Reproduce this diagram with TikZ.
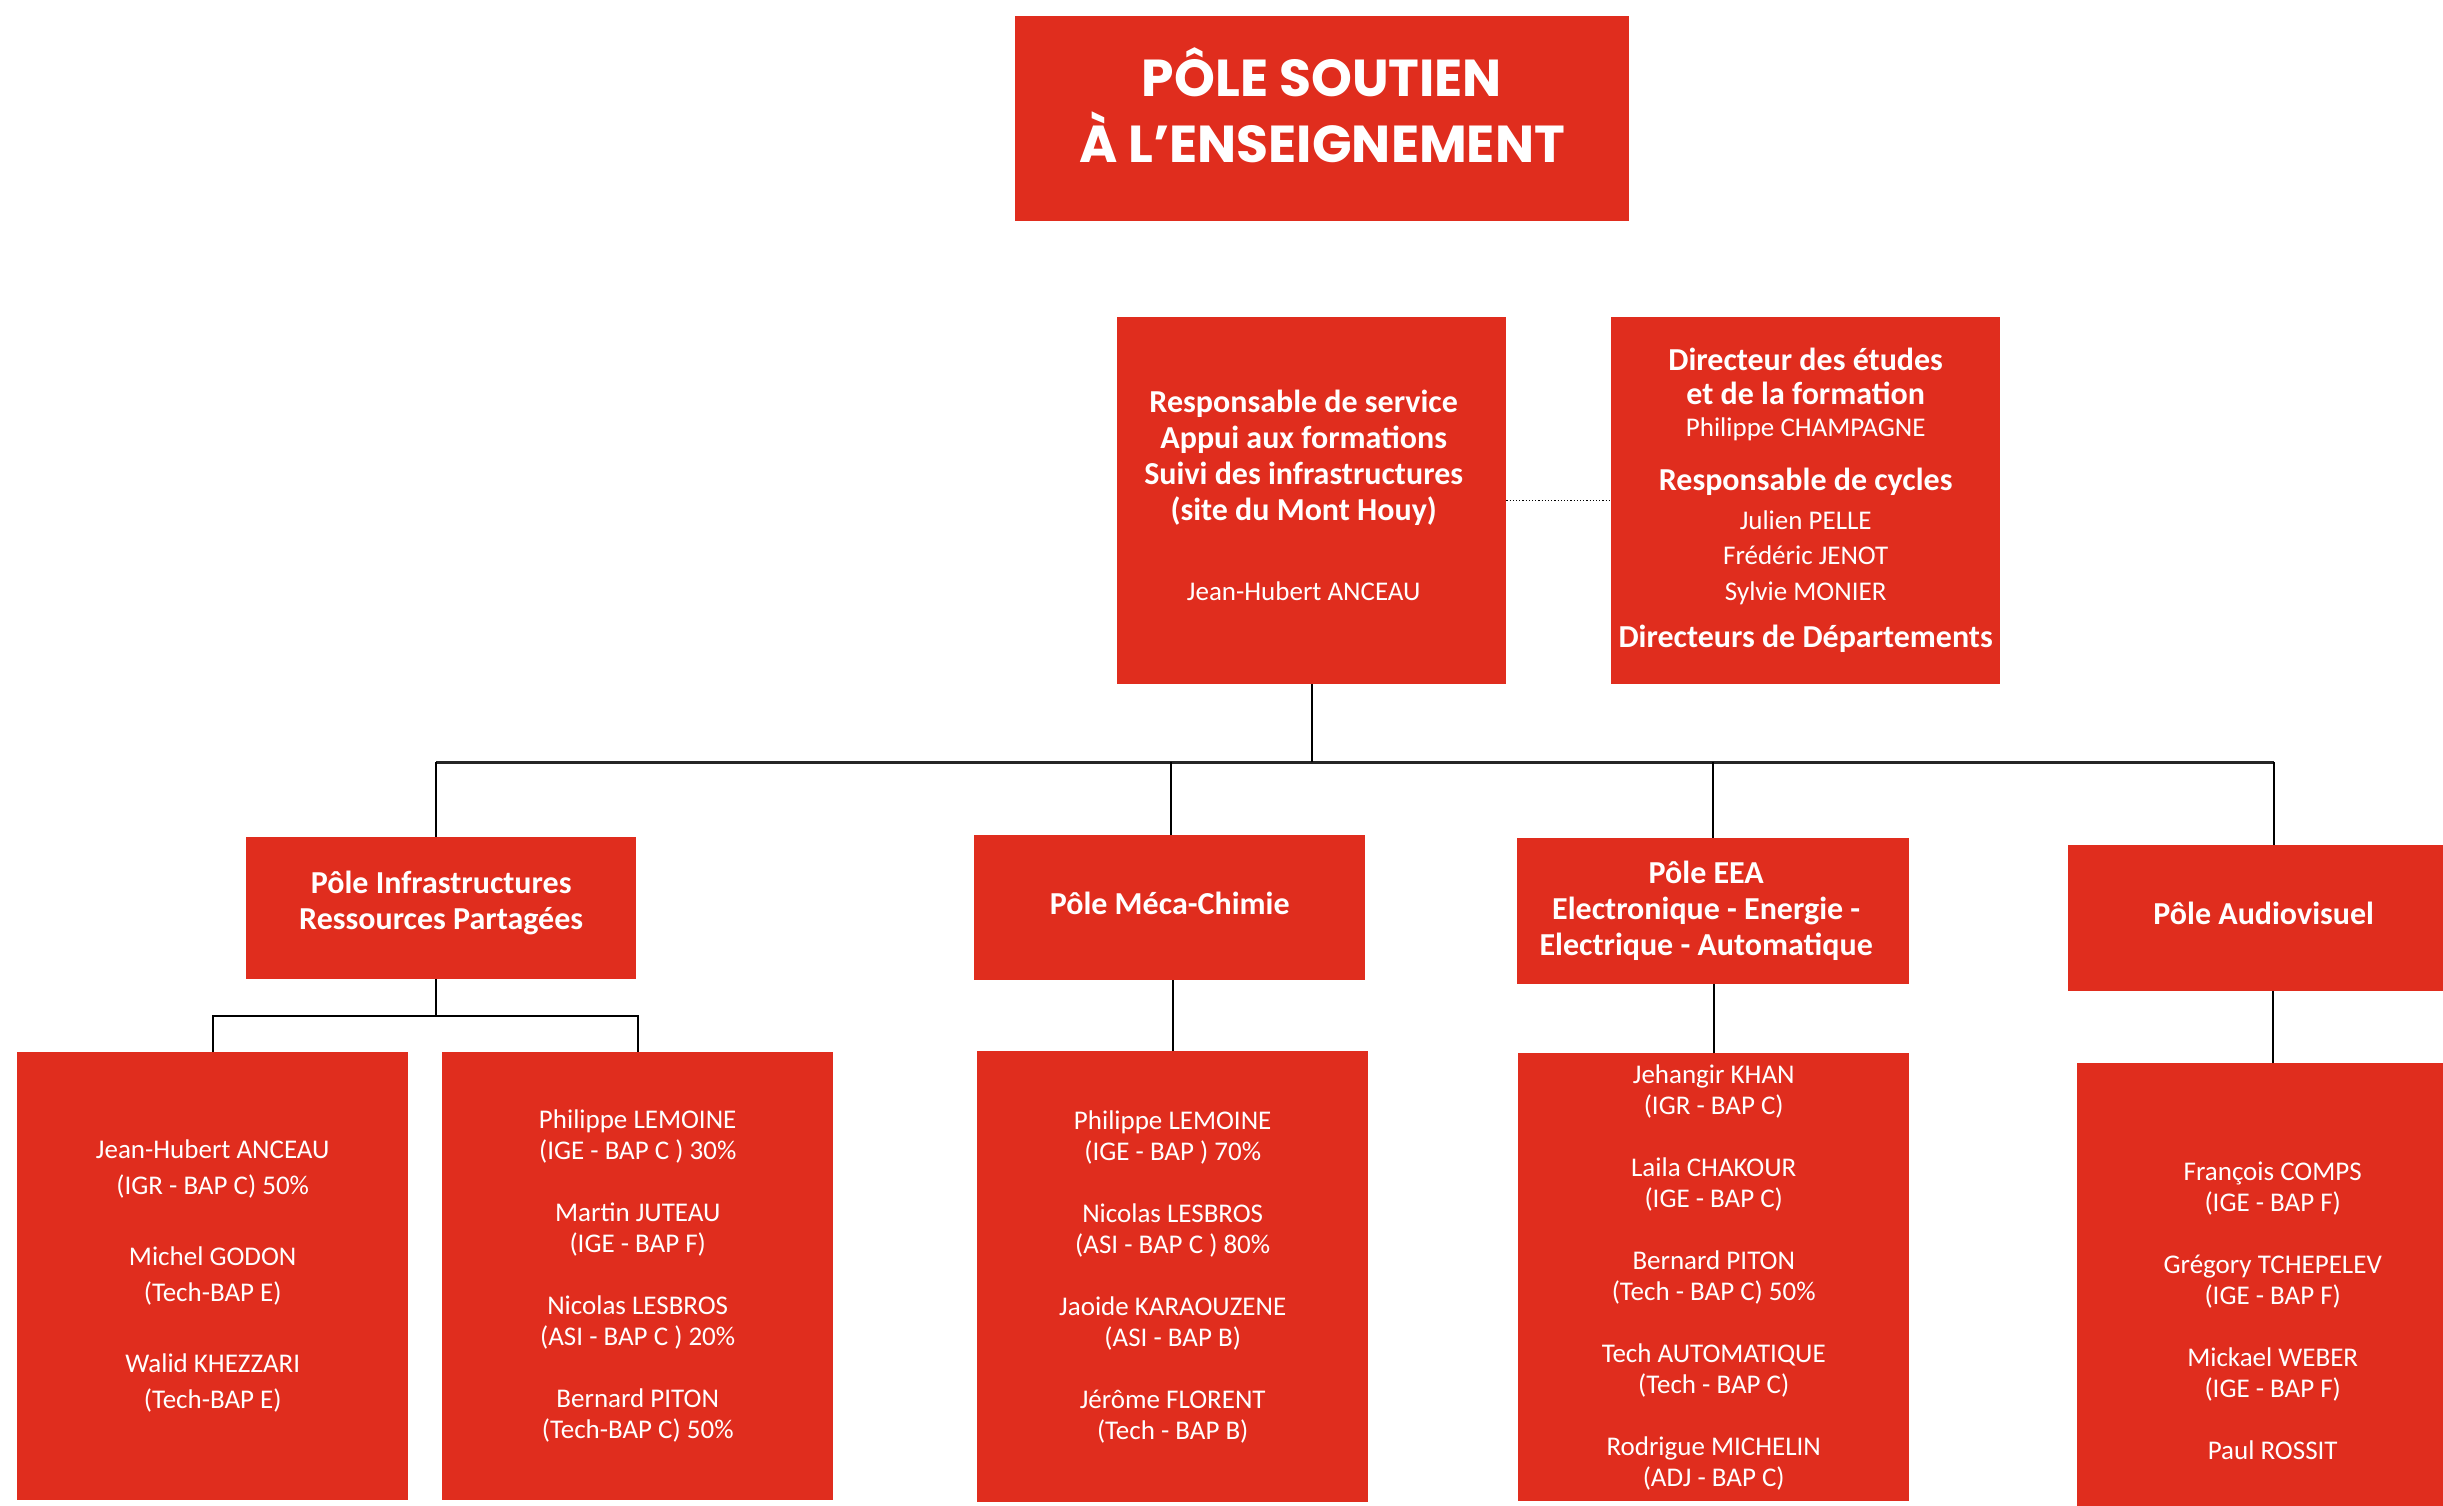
\documentclass[tikz,border=0pt]{standalone}
\usepackage{fontspec}
\setmainfont{Carlito}
\newfontfamily\titlefont{Poppins}
\definecolor{boxred}{HTML}{E02D1E}
\newcommand\namesize{\mdseries\fontsize{27}{31}\selectfont}
\newcommand\headsize{\bfseries\fontsize{32}{36}\selectfont}
\newcommand\padR[1]{\mbox{#1\makebox[16pt]{}}}
\newcommand\padE[1]{\mbox{#1\makebox[14pt]{}}}
\begin{document}
\begin{tikzpicture}[x=1pt,y=-1pt,
  box/.style={fill=boxred, draw=none, inner sep=0pt, anchor=north west, text=white, align=center},
  headbox/.style={box, font=\headsize},
  namebox/.style={box, font=\namesize},
  titletxt/.style={text=white, inner sep=0pt, anchor=base, font=\titlefont\bfseries\fontsize{52}{60}\selectfont},
  conn/.style={line width=1.6pt, black},
  busline/.style={line width=3pt, black!85}]
\clip (0,0) rectangle (2443,1505);
\fill[white] (0,0) rectangle (2443,1505);

% title
\node[box, minimum width=614pt, minimum height=205pt] (title) at (1015,16) {};
\node[titletxt] (t1) at (1322,96) {PÔLE SOUTIEN};
\node[titletxt] (t2) at (1322,162) {À L’ENSEIGNEMENT};

% responsable
\node[box, minimum width=389pt, minimum height=367pt, text depth=10pt, font=\fontsize{32}{36}\selectfont] (resp) at (1117,317)
 {\padR{\bfseries Responsable de service}\\
  \padR{\bfseries Appui aux formations}\\
  \padR{\bfseries Suivi des infrastructures}\\
  \padR{\bfseries (site du Mont Houy)}\\[44pt]
  \padR{\namesize Jean-Hubert ANCEAU}};

% directeur
\node[box, minimum width=389pt, minimum height=367pt, font=\fontsize{32}{34}\selectfont] (dir) at (1611,317)
 {\bfseries Directeur des études\\
  \bfseries et de la formation\\[-2pt]
  \namesize Philippe CHAMPAGNE\\[20pt]
  \bfseries Responsable de cycles\\[5pt]
  \namesize Julien PELLE\\[1pt]
  \namesize Frédéric JENOT\\[2pt]
  \namesize Sylvie MONIER\\[13pt]
  \bfseries Directeurs de Départements};

\draw[dotted, line width=1.2pt] (resp.east) -- (dir.west);

% poles
\node[headbox, minimum width=390pt, minimum height=142pt, text depth=16pt] (infra) at (246,837)
 {Pôle Infrastructures\\Ressources Partagées};
\node[headbox, minimum width=391pt, minimum height=145pt, text depth=9pt] (meca) at (974,835)
 {Pôle Méca-Chimie};
\node[headbox, minimum width=392pt, minimum height=146pt] (eea) at (1517,838)
 {\padE{Pôle EEA}\\
  \padE{Electronique - Energie -}\\
  \padE{Electrique - Automatique}};
\node[headbox, minimum width=391pt, minimum height=146pt, text depth=9pt] (aud) at (2068,845)
 {Pôle Audiovisuel};

% staff boxes
\node[box, minimum width=391pt, minimum height=448pt, font=\mdseries\fontsize{27}{36}\selectfont] (infL) at (17,1052)
 {Jean-Hubert ANCEAU\\(IGR - BAP C) 50\%\\[35pt]
  Michel GODON\\(Tech-BAP E)\\[35pt]
  Walid KHEZZARI\\(Tech-BAP E)};
\node[namebox, minimum width=391pt, minimum height=448pt] (infR) at (442,1052)
 {Philippe LEMOINE\\(IGE - BAP C ) 30\%\\[31pt]
  Martin JUTEAU\\(IGE - BAP F)\\[31pt]
  Nicolas LESBROS\\(ASI - BAP C ) 20\%\\[31pt]
  Bernard PITON\\(Tech-BAP C) 50\%};
\node[namebox, minimum width=391pt, minimum height=451pt] (mecaN) at (977,1051)
 {Philippe LEMOINE\\(IGE - BAP ) 70\%\\[31pt]
  Nicolas LESBROS\\(ASI - BAP C ) 80\%\\[31pt]
  Jaoide KARAOUZENE\\(ASI - BAP B)\\[31pt]
  Jérôme FLORENT\\(Tech - BAP B)};
\node[namebox, minimum width=391pt, minimum height=448pt] (eeaN) at (1518,1053)
 {Jehangir KHAN\\(IGR - BAP C)\\[31pt]
  Laila CHAKOUR\\(IGE - BAP C)\\[31pt]
  Bernard PITON\\(Tech - BAP C) 50\%\\[31pt]
  Tech AUTOMATIQUE\\(Tech - BAP C)\\[31pt]
  Rodrigue MICHELIN\\(ADJ - BAP C)};
\node[namebox, minimum width=391pt, minimum height=496pt] (audN) at (2077,1063)
 {François COMPS\\(IGE - BAP F)\\[31pt]
  Grégory TCHEPELEV\\(IGE - BAP F)\\[31pt]
  Mickael WEBER\\(IGE - BAP F)\\[31pt]
  Paul ROSSIT};

% connectors
\coordinate (busL) at (436,762);
\coordinate (busM) at (1171,762);
\coordinate (busE) at (1713,762);
\coordinate (busR) at (2274,762);
\draw[busline] (busL) -- (busR);
\draw[conn] (resp.south) -- (resp.south |- busL);
\draw[conn] (busL) -- (busL |- infra.north);
\draw[conn] (busM) -- (busM |- meca.north);
\draw[conn] (busE) -- (busE |- eea.north);
\draw[conn] (busR) -- (busR |- aud.north);

\coordinate (ib) at (436,1016);
\draw[conn] (ib |- infra.south) -- (ib);
\draw[conn] (infL.north) -- (infL.north |- ib) -- (infR.north |- ib) -- (infR.north);
\draw[conn] (mecaN.north) -- (mecaN.north |- meca.south);
\draw[conn] (eeaN.north) -- (eeaN.north |- eea.south);
\draw[conn] (audN.north) -- (audN.north |- aud.south);
\end{tikzpicture}
\end{document}
